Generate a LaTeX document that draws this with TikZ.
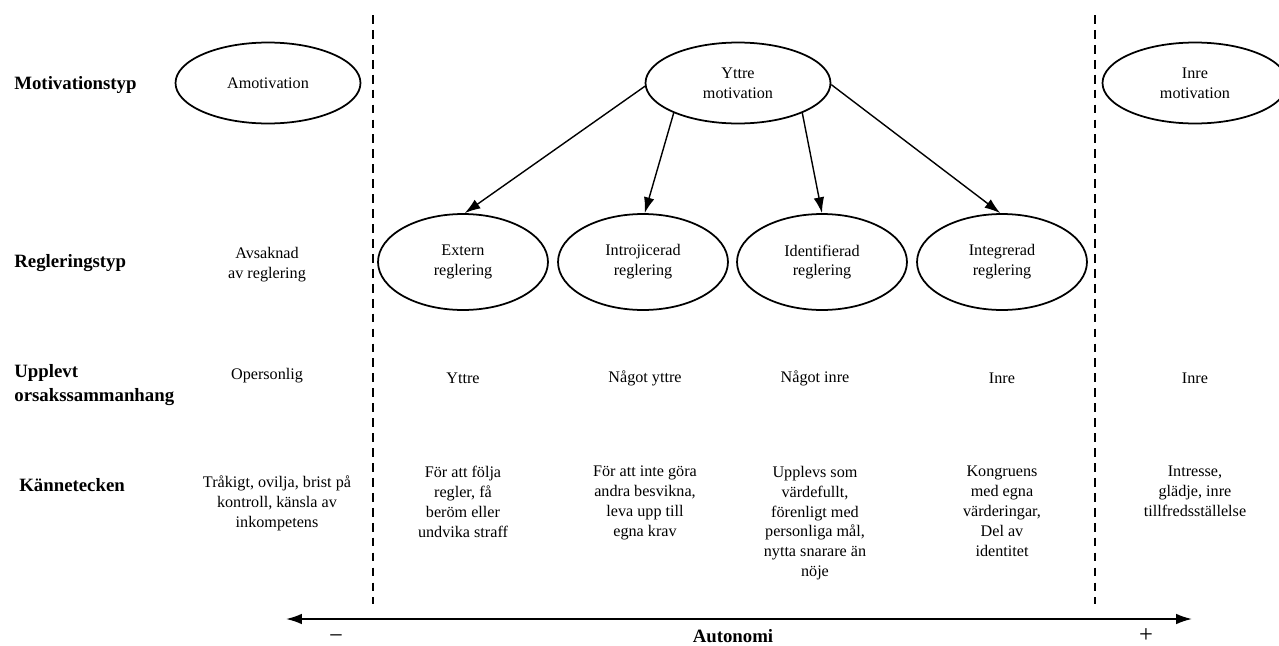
\documentclass[tikz,border=0pt]{standalone}
\usepackage{fontspec}
\setmainfont{Liberation Serif}
\usetikzlibrary{shapes.geometric,arrows.meta}
\begin{document}
\begin{tikzpicture}[x=0.02cm, y=-0.02cm,
  every node/.style={font=\fontsize{9.2}{11.3}\selectfont, align=center},
  rubrik/.style={font=\fontsize{10.7}{13.5}\selectfont\bfseries, anchor=west, align=left, inner sep=0pt},
  typ/.style={draw, ellipse, line width=1pt, minimum width=3.7cm, minimum height=1.62cm, inner sep=0pt},
  regl/.style={draw, ellipse, line width=1pt, minimum width=3.4cm, minimum height=1.92cm, inner sep=0pt},
  kanne/.style={anchor=north},
  grans/.style={line width=1pt, dash pattern=on 5pt off 3.5pt},
  pil/.style={-{Latex[length=9pt,width=6pt]}, line width=0.8pt}]
\useasboundingbox (0,0) rectangle (1279,646);

% rubriker
\node [rubrik] (motiv) at (14,85) {Motivationstyp};
\node [rubrik] (regtyp) at (14,263) {Regleringstyp};
\node [rubrik] (upplevt) at (14,385) {Upplevt\\orsakssammanhang};
\node [rubrik] (kann) at (19,485) {Kännetecken};

% gränser
\coordinate (g1a) at (373,15);
\coordinate (g1b) at (373,604);
\coordinate (g2a) at (1095,15);
\coordinate (g2b) at (1095,604);
\draw [grans] (g1a) -- (g1b);
\draw [grans] (g2a) -- (g2b);

% motivationstyp
\node [typ] (amot) at (268,83) {Amotivation};
\node [typ] (yttre) at (738,83) {Yttre\\motivation};
\node [typ] (inre) at (1195,83) {Inre\\motivation};

% regleringstyp
\node (avsak) at (267,265) {Avsaknad\\av reglering};
\node [regl] (extern) at (463,262) {Extern\\reglering};
\node [regl] (introj) at (643,262) {Introjicerad\\reglering};
\node [regl] (ident) at (822,262) {Identifierad\\reglering};
\node [regl] (integr) at (1002,262) {Integrerad\\reglering};

\draw [pil] (yttre.182) -- (extern.88);
\draw [pil] (yttre.205) -- (introj.88);
\draw [pil] (yttre.335) -- (ident.90);
\draw [pil] (yttre.359) -- (integr.92);

% orsakssammanhang
\node (o1) at (267,376) {Opersonlig};
\node (o2) at (463,378) {Yttre};
\node (o3) at (645,378) {Något yttre};
\node (o4) at (815,378) {Något inre};
\node (o5) at (1002,378) {Inre};
\node (o6) at (1195,378) {Inre};

% kännetecken
\node [kanne] (k1) at (277,470) {Tråkigt, ovilja, brist på\\kontroll, känsla av\\inkompetens};
\node [kanne] (k2) at (463,460) {För att följa\\regler, få\\beröm eller\\undvika straff};
\node [kanne] (k3) at (645,460) {För att inte göra\\andra besvikna,\\leva upp till\\egna krav};
\node [kanne] (k4) at (815,460) {Upplevs som\\värdefullt,\\förenligt med\\personliga mål,\\nytta snarare än\\nöje};
\node [kanne] (k5) at (1002,460) {Kongruens\\med egna\\värderingar,\\Del av\\identitet};
\node [kanne] (k6) at (1195,460) {Intresse,\\glädje, inre\\tillfredsställelse};

% autonomi
\coordinate (axL) at (286,619);
\coordinate (axR) at (1192,619);
\draw [{Latex[length=9pt,width=6pt]}-{Latex[length=9pt,width=6pt]}, line width=1pt] (axL) -- (axR);
\node [font=\fontsize{14}{16}\selectfont, inner sep=0pt] (minus) at (336,639) {−};
\node [font=\fontsize{10.7}{13}\selectfont\bfseries, inner sep=0pt] (auton) at (733,636) {Autonomi};
\node [font=\fontsize{14}{16}\selectfont, inner sep=0pt] (plus) at (1146,636) {+};
\end{tikzpicture}
\end{document}
